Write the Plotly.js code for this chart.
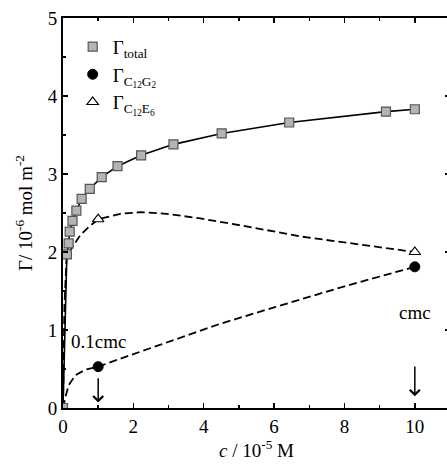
<!DOCTYPE html>
<html><head><meta charset="utf-8">
<script src="https://cdn.plot.ly/plotly-3.0.1.min.js"></script>
<style>html,body{margin:0;padding:0;overflow:hidden;background:#fff}</style>
</head><body>
<div id="chart" style="width:455px;height:467px"></div>
<script>
// Γ_total measured points
const totalX = [0, 0.11, 0.16, 0.19, 0.27, 0.38, 0.53, 0.76, 1.10, 1.55, 2.22, 3.14, 4.51, 6.43, 9.18, 10.0];
const totalY = [0, 1.97, 2.11, 2.26, 2.40, 2.53, 2.68, 2.81, 2.96, 3.10, 3.24, 3.38, 3.52, 3.66, 3.80, 3.83];
// Γ_C12G2 points and dashed curve
const g2X = [1, 10];
const g2Y = [0.53, 1.81];
const g2CurveX = [0, 0.03, 0.07, 0.16, 0.35, 0.63, 1.0, 1.68, 2.81, 4.47, 6.0, 8.0, 10.0];
const g2CurveY = [0, 0.07, 0.14, 0.29, 0.42, 0.49, 0.53, 0.64, 0.82, 1.08, 1.29, 1.56, 1.81];
// Γ_C12E6 points and dashed curve
const e6X = [1, 10];
const e6Y = [2.42, 2.00];
const e6CurveX = [0, 0.04, 0.1, 0.27, 0.5, 0.73, 1.0, 1.63, 2.2, 2.95, 3.9, 5.32, 6.74, 8.16, 10.0];
const e6CurveY = [0, 1.3, 1.92, 2.07, 2.22, 2.32, 2.42, 2.49, 2.51, 2.49, 2.43, 2.32, 2.20, 2.11, 2.00];
// labels
const legendNames = ['Γ<sub>total</sub>', 'Γ<sub>C<sub>12</sub>G<sub>2</sub></sub>', 'Γ<sub>C<sub>12</sub>E<sub>6</sub></sub>'];
const markLabels = ['0.1cmc', 'cmc'];
const markX = [1, 10];

const FONT = 'Liberation Serif, Times New Roman, serif';

const traces = [
  {x: totalX, y: totalY, mode: 'lines', line: {color: '#000', width: 1.6}, showlegend: false, hoverinfo: 'skip'},
  {x: g2CurveX, y: g2CurveY, mode: 'lines', line: {color: '#000', width: 1.8, dash: '8px,4px'}, showlegend: false, hoverinfo: 'skip'},
  {x: e6CurveX, y: e6CurveY, mode: 'lines', line: {color: '#000', width: 1.8, dash: '8px,4px'}, showlegend: false, hoverinfo: 'skip'},
  {x: totalX, y: totalY, mode: 'markers', name: legendNames[0],
   marker: {symbol: 'square', size: 9, color: '#b4b4b4', line: {color: '#555', width: 1.2}}},
  {x: g2X, y: g2Y, mode: 'markers', name: legendNames[1],
   marker: {symbol: 'circle', size: 10, color: '#000', line: {color: '#000', width: 1}}},
  {x: e6X, y: e6Y, mode: 'markers', name: legendNames[2],
   marker: {symbol: 'triangle-up', size: 10, color: '#fff', line: {color: '#000', width: 1.2}}}
];

const annotations = [
  {x: markX[0], y: 0.85, xref: 'x', yref: 'y', text: markLabels[0], showarrow: false, font: {family: FONT, size: 19, color: '#000'}},
  {x: markX[1], y: 1.22, xref: 'x', yref: 'y', text: markLabels[1], showarrow: false, font: {family: FONT, size: 19, color: '#000'}},
  {x: markX[0], y: 0.07, xref: 'x', yref: 'y', ax: markX[0], ay: 0.40, axref: 'x', ayref: 'y', text: '', showarrow: true, arrowhead: 4, arrowsize: 1.3, arrowwidth: 1.5, arrowcolor: '#000'},
  {x: markX[1], y: 0.15, xref: 'x', yref: 'y', ax: markX[1], ay: 0.55, axref: 'x', ayref: 'y', text: '', showarrow: true, arrowhead: 4, arrowsize: 1.3, arrowwidth: 1.5, arrowcolor: '#000'}
];

const axisCommon = {
  showline: true, linecolor: '#000', linewidth: 2, mirror: 'ticks',
  ticks: 'inside', ticklen: 5, tickwidth: 1.5, tickcolor: '#000',
  showgrid: false, zeroline: false,
  tickfont: {family: FONT, size: 19, color: '#000'}
};

const layout = {
  width: 455, height: 467,
  margin: {l: 63, r: 5, t: 18, b: 59},
  paper_bgcolor: '#fff', plot_bgcolor: '#fff',
  font: {family: FONT, color: '#000'},
  xaxis: Object.assign({}, axisCommon, {
    range: [0, 11], tick0: 0, dtick: 2,
    minor: {dtick: 1, ticks: 'inside', ticklen: 3, tickwidth: 1.5, tickcolor: '#000', showgrid: false},
    title: {text: '<i>c</i> / 10<sup>-5</sup> M', font: {family: FONT, size: 19, color: '#000'}, standoff: 6}
  }),
  yaxis: Object.assign({}, axisCommon, {
    range: [0, 5], tick0: 0, dtick: 1,
    minor: {dtick: 0.5, ticks: 'inside', ticklen: 3, tickwidth: 1.5, tickcolor: '#000', showgrid: false},
    title: {text: 'Γ/ 10<sup>-6</sup> mol m<sup>-2</sup>', font: {family: FONT, size: 19, color: '#000'}, standoff: 10}
  }),
  legend: {x: 0.025, y: 0.975, xanchor: 'left', yanchor: 'top', bgcolor: 'rgba(0,0,0,0)',
    font: {family: FONT, size: 19, color: '#000'}, tracegroupgap: 0},
  annotations: annotations,
  showlegend: true
};

Plotly.newPlot('chart', traces, layout, {displayModeBar: false, staticPlot: true});
</script>
</body></html>
